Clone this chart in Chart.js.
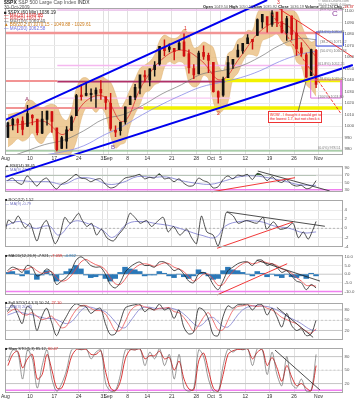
<!DOCTYPE html>
<html><head><meta charset="utf-8">
<script src="https://cdn.jsdelivr.net/npm/chart.js@4"></script>
<style>
body{margin:0;background:#fff;}
#wrap{position:relative;width:356px;height:400px;background:#fff;overflow:hidden;font-family:"Liberation Sans",Arial,sans-serif;}
canvas{position:absolute;left:0;}
.t{position:absolute;white-space:nowrap;font-size:4.6px;line-height:5px;color:#222;z-index:5;}
</style></head><body>
<div id="wrap">
<canvas id="p2" style="top:162px"></canvas>
<canvas id="p3" style="top:196px"></canvas>
<canvas id="p4" style="top:251px"></canvas>
<canvas id="p5" style="top:299px"></canvas>
<canvas id="p6" style="top:344px"></canvas>
<canvas id="p1" style="top:0px;z-index:2"></canvas>

<div class="t" style="left:4px;top:0px;font-size:5px"><b>$SPX</b> <span style="color:#555">S&amp;P 500 Large Cap Index</span> INDX</div>
<div class="t" style="left:4px;top:5px;color:#555">30-Oct-2009</div>
<div class="t" style="left:4px;top:9.5px">■ $SPX (60 Min) 1036.19</div>
<div class="t" style="left:4px;top:12.7px;color:#d22">— MA(20) 1049.88</div>
<div class="t" style="left:4px;top:15.8px;color:#e05050">— MA(50) 1063.37</div>
<div class="t" style="left:4px;top:18.9px;color:#666">— MA(100) 1069.49</div>
<div class="t" style="left:4px;top:22.2px;color:#d08020">▲ BB(20,2.0) 1070.15 - 1049.88 - 1029.61</div>
<div class="t" style="left:4px;top:25.5px;color:#7070e0">— MA(200) 1062.58</div>
<div class="t" style="left:203px;top:3.8px;font-size:3.9px"><b>Open</b> <span style="color:#666">1049.50</span> <b>High</b> <span style="color:#666">1050.52</span> <b>Low</b> <span style="color:#666">1035.92</span> <b>Close</b> <span style="color:#666">1036.19</span> <b>Volume</b> <span style="color:#666">169.1M</span> <b>Chg</b> <span style="color:#c00">-13.37</span></div>
<div class="t" style="left:318px;top:0px;font-size:3.6px;line-height:3.8px;color:#888">© StockCharts.com<br>30-Oct-2009 4:00pm</div>

<div class="t" style="left:25px;top:97px;font-size:6px;color:#993366">A</div>
<div class="t" style="left:111px;top:145px;font-size:6px;color:#6a3d9a">B</div>
<div class="t" style="left:332px;top:11px;font-size:8px;color:#8a3d9a">C</div>
<div class="t" style="left:184px;top:26px;font-size:5px;color:#d22">1</div>
<div class="t" style="left:217px;top:111px;font-size:5px;color:#d22">2</div>
<div class="t" style="left:277px;top:0px;font-size:5px;color:#d22">3</div>

<div class="t" style="left:320px;top:6.5px;font-size:3.6px;color:#777">(0.0%) 1101.40</div>
<div class="t" style="left:318px;top:30px;font-size:3.6px;color:#777">(23.6%) 1080.84</div>
<div class="t" style="left:320px;top:40px;font-size:3.6px;color:#777">(38.2%) 1071.12</div>
<div class="t" style="left:320px;top:48.5px;font-size:3.6px;color:#777">(50.0%) 1060.68</div>
<div class="t" style="left:318px;top:62px;font-size:3.6px;color:#777">(61.8%) 1052.25</div>
<div class="t" style="left:318px;top:77px;font-size:3.6px;color:#777">(78.6%) 1039.60</div>
<div class="t" style="left:318px;top:95px;font-size:3.6px;color:#777">(100%) 1024.80</div>
<div class="t" style="left:318px;top:146px;font-size:3.6px;color:#777">(0.0%) 978.51</div>

<div class="t" style="left:268px;top:111px;width:50px;padding:0.5px 1px;border:0.6px solid #e33;background:#fff;color:#e00;font-size:3.7px;line-height:4.3px;z-index:6">WOW - I thought it would get to<br>the lowest 1.7, but not check it.</div>

<div class="t" style="left:5px;top:163px;font-size:4px">▲ RSI(14) 38.45</div>
<div class="t" style="left:5px;top:166.5px;font-size:4px;color:#7070c0">— MA(9) 42.11</div>
<div class="t" style="left:5px;top:197px;font-size:4px">■ ROC(12) 1.52</div>
<div class="t" style="left:5px;top:200.5px;font-size:4px;color:#7070c0">— MA(9) -0.79</div>
<div class="t" style="left:5px;top:252.5px;font-size:4px">■ MACD(12,26,9) -7.921, <span style="color:#d22">-7.059</span>, <span style="color:#2a7ab8">-0.862</span></div>
<div class="t" style="left:5px;top:300px;font-size:4px">■ Full STO(14,3,3) 50.24, <span style="color:#d22">27.10</span></div>
<div class="t" style="left:5px;top:303.5px;font-size:4px;color:#7070c0">— MA(3) 20.35</div>
<div class="t" style="left:5px;top:345.5px;font-size:4px">■ Slow STO(5,3) 85.12, <span style="color:#d22">60.47</span></div>
</div>
<script>
// ---------- DATA ----------
const tickDays   = [0,5,10,15,20,21,25,29,34,39,42,44,49,54,59,64];
const tickLabels = ['Aug','10','17','24','31','Sep','8','14','21','28','Oct','5','12','19','26','Nov'];

const open  = [990.2,1001.4,1005.4,1004.1,999.8,1008.9,1005.8,994.0,1005.9,1012.2,998.2,980.6,986.9,996.4,1009.1,1026.6,1026.6,1027.4,1027.8,1031.6,1025.2,1019.5,996.1,996.1,1003.8,1018.7,1025.1,1033.0,1043.9,1040.2,1049.0,1054.0,1067.9,1066.6,1067.1,1066.4,1072.7,1062.6,1049.5,1045.4,1063.7,1061.0,1054.9,1029.7,1026.9,1042.0,1053.7,1060.0,1065.3,1071.6,1075.0,1078.7,1090.4,1094.7,1088.2,1098.6,1090.4,1081.0,1095.2,1080.4,1067.5,1061.5,1043.7,1065.4];
const high  = [1003.6,1007.1,1006.6,1008.0,1018.0,1010.1,1005.8,1012.8,1013.1,1012.6,998.2,991.2,999.6,1008.9,1027.6,1035.8,1037.8,1032.5,1033.3,1039.5,1025.2,1028.5,1000.3,1003.4,1016.5,1026.1,1036.3,1044.1,1048.2,1049.7,1056.0,1068.8,1074.8,1071.5,1067.3,1073.8,1080.2,1066.3,1053.5,1065.1,1069.6,1063.4,1054.9,1030.6,1042.6,1060.6,1058.0,1070.7,1071.5,1079.5,1075.3,1093.2,1096.6,1094.7,1100.2,1098.6,1101.4,1095.2,1095.8,1091.8,1072.5,1063.3,1066.8,1066.6];
const low   = [990.2,996.7,994.3,992.5,999.8,1001.0,992.4,993.4,1000.8,994.6,978.5,980.6,980.6,996.4,1009.1,1022.5,1026.2,1021.6,1016.2,1023.1,1014.6,996.3,991.0,992.3,1001.7,1018.7,1023.0,1028.0,1038.4,1035.0,1043.4,1052.9,1061.2,1064.3,1057.5,1066.4,1060.4,1045.9,1041.2,1045.4,1057.8,1046.5,1029.5,1020.0,1025.9,1042.0,1050.0,1060.0,1063.0,1071.6,1066.7,1078.7,1085.0,1081.5,1086.5,1086.2,1080.8,1074.3,1075.0,1061.3,1060.6,1042.2,1043.7,1033.4];
const close = [1002.6,1005.6,1002.7,997.1,1010.5,1007.1,994.4,1005.8,1012.7,1004.1,979.7,989.7,996.5,1007.4,1026.1,1025.6,1028.0,1028.1,1031.0,1028.9,1020.6,998.0,994.8,1003.2,1016.4,1025.4,1033.4,1044.1,1042.7,1049.3,1052.6,1068.8,1065.5,1068.3,1064.7,1071.7,1060.9,1050.8,1044.4,1063.0,1060.6,1057.1,1029.9,1025.2,1040.5,1054.7,1057.6,1065.5,1071.5,1076.2,1073.2,1092.0,1096.6,1087.7,1097.9,1091.1,1081.4,1092.9,1079.6,1067.0,1063.4,1042.6,1066.1,1036.2];

const bbUpper = [1010,1011,1012,1012,1022,1022,1018,1016,1018,1019,1017,1008,1005,1014,1033,1041,1042,1039,1040,1043,1041,1038,1028,1016,1022,1032,1041,1050,1053,1056,1062,1074,1079,1077,1076,1078,1084,1079,1068,1069,1073,1071,1068,1053,1048,1063,1066,1075,1077,1083,1083,1098,1103,1102,1105,1104,1106,1101,1101,1098,1088,1078,1073,1075];
const bbLower = [982,985,989,987,989,994,987,985,992,995,972,969,972,977,987,1006,1016,1016,1012,1016,1010,991,981,984,986,1001,1011,1019,1029,1031,1036,1038,1051,1056,1054,1056,1054,1038,1034,1036,1044,1041,1021,1011,1014,1021,1041,1046,1056,1062,1062,1061,1074,1076,1078,1080,1074,1070,1069,1056,1052,1036,1032,1026];

const maDays   = [0,4,8,12,16,20,24,28,32,36,40,44,48,52,56,60,63.5];
const maRed    = [1000,1002,1004,993,1020,1026,1004,1036,1058,1066,1057,1040,1060,1082,1090,1078,1060];
const maGray   = [972,978,984,988,996,1006,1010,1018,1028,1036,1045,1048,1052,1060,1070,1076,1075];
const maPurple = [968,971,975,978,983,992,1000,1010,1019,1027,1034,1038,1042,1048,1056,1062,1065];

const rsi      = [55,62,50,45,68,55,40,55,62,45,32,45,52,62,72,62,60,52,58,60,45,35,38,50,62,65,68,72,60,64,62,74,60,62,52,60,48,40,42,62,55,50,35,38,58,68,60,70,68,72,58,75,70,55,66,55,50,58,45,40,42,33,36,55];
const rsiSigDays = [0,3,6,9,12,15,18,21,24,27,30,33,36,39,42,45,48,51,54,57,60,63.5];
const rsiSig   = [55,55,52,52,45,62,60,45,50,66,64,65,55,48,45,55,66,68,62,54,44,42];

const rocDays  = [0,0.7,1.7,2.7,4.1,5.1,6.5,7.5,8.5,10.2,11.2,12.2,13.3,15,15.6,16.7,17.7,18.7,19.7,20.8,22.1,23.1,24.5,25.5,26.5,27.6,28.9,29.9,31,32.3,33.3,34.4,35.7,37.1,38.1,39.1,40.1,41.2,42.5,43.5,44.6,45.2,46.6,47.6,49.3,51.4,52.7,53.4,54.8,56.1,57.5,58.8,59.9,60.9,61.9,62.9,63.5];
const roc      = [-0.8,1.8,1.1,2.7,0.1,1.1,-2.8,0.4,1.7,-3.4,-1.5,2.4,1.1,3.3,2.1,0.4,1.1,-1.5,-0.2,-2.1,-2.8,-1.5,0.4,3.3,2.4,1.1,1.7,0.4,1.4,2.4,-0.8,0.4,-1.5,-0.2,-2.1,-3.4,2.7,-0.8,-1.5,-3.9,0.4,3.5,2.7,1.1,1.7,1.1,2.4,-0.2,1.4,-0.2,0.1,1.1,-2.1,-0.8,-2.4,-0.2,1.5];
const rocSigDays = [0,3,6,9,11,14,17,20,22,25,28,31,34,37,40,43,45,48,52,55,58,61,63.5];
const rocSig   = [0.5,1.5,0,0.5,-1.5,1.5,1,-0.5,-2,1,1.5,1,0.5,-0.5,-1.5,-2,0.5,1.5,1.5,0.5,0,-1,-0.8];

const macd     = [2,4,3,1,5,4,-1,0,3,1,-6,-4,-2,2,8,10,8,5,4,4,0,-6,-8,-5,1,4,6,7,5,5,4,7,7,5,2,3,0,-4,-5,0,1,-1,-6,-9,-4,2,4,6,7,7,5,8,8,5,6,4,1,2,-1,-4,-5,-9,-6,-8];
const macdSig  = [1,2.5,3,2.5,3,4,2,0.5,1,1.5,-2,-4,-3.5,-1,3,7,8.5,7,5.5,4.5,2.5,-2,-5.5,-6,-3,1,3.5,5.5,6,5.5,4.5,5.5,6.5,6,4,3,1.5,-1.5,-4,-2.5,0,0,-3,-6.5,-6,-2,1.5,4,6,7,6,6.5,7.5,6.5,6,5,3,2,0.5,-2,-4,-6.5,-6.5,-7];
const macdHist = [1,1.5,0,-1,2,0,-3,-0.5,2,-0.5,-4,0,1.5,3,5,3,-0.5,-2,-1.5,-0.5,-2.5,-4,-2.5,1,4,3,2.5,1.5,-1,-0.5,-0.5,1.5,0.5,-1,-2,0,-1.5,-2.5,-1,2.5,1,-1,-3,-2.5,2,4,2.5,2,1,0,-1,1.5,0.5,-1.5,0,-1,-2,0,-1.5,-2,-1,-2.5,0.5,-1];

const stoK     = [75,95,70,40,90,80,20,60,85,45,5,35,60,85,98,92,90,70,80,85,40,8,10,45,85,92,95,97,75,85,80,97,80,85,55,80,30,10,15,85,80,55,8,5,60,92,85,95,95,97,80,95,95,65,85,60,30,70,35,20,25,5,10,50];
const stoD     = [70,80,82,68,65,72,62,52,55,62,45,28,32,58,80,92,93,85,78,78,68,45,20,20,45,75,90,94,89,85,80,85,85,87,75,72,58,38,18,35,58,72,48,22,22,50,78,90,92,95,92,90,92,85,80,70,58,52,45,40,27,18,12,25];
const stoMA    = [65,70,75,72,68,66,62,58,55,55,52,45,40,45,60,78,88,88,84,80,75,62,45,30,28,45,65,82,88,88,85,84,85,86,83,78,68,55,40,32,40,55,58,45,32,30,45,65,80,88,92,92,91,90,86,80,72,62,55,48,40,30,22,20];

const fastK    = [70,95,90,30,95,75,10,60,95,30,3,20,50,95,98,95,98,75,90,95,20,3,5,40,95,96,95,98,60,90,75,98,60,85,30,85,10,3,10,95,80,30,3,2,60,97,90,98,95,98,60,98,95,40,90,40,15,80,20,10,30,3,5,85];
const fastD    = [60,85,92,55,75,85,30,40,85,50,10,10,40,80,96,96,96,85,85,93,45,10,4,25,75,95,95,97,75,82,82,92,75,78,50,70,30,8,6,70,88,50,10,3,40,85,93,96,96,97,75,90,96,60,78,55,25,60,35,15,20,10,4,60];

const priceTicks = [980,990,1000,1010,1020,1030,1040,1050,1060,1070,1080,1090,1100];

// ---------- HELPERS ----------
const X_MAX = 69;
const dayPos = close.map((_, i) => i + 0.5);
const pts = (xs, ys) => ys.map((v, i) => ({x: xs[i], y: v}));
function line(data, color, w, extra) {
  return Object.assign({type:'line', data, borderColor:color, borderWidth:w, pointRadius:0, fill:false, tension:0}, extra || {});
}
function hline(v, x0, x1, color, w, extra) {
  return line([{x:x0,y:v},{x:x1,y:v}], color, w, Object.assign({order:8}, extra || {}));
}
const framePlugin = {
  id: 'frame',
  afterDraw(chart) {
    const {ctx, chartArea: a} = chart;
    ctx.save(); ctx.strokeStyle = '#a8a8a8'; ctx.lineWidth = 1;
    ctx.strokeRect(Math.round(a.left)+0.5, Math.round(a.top)+0.5, Math.round(a.right-a.left)-1, Math.round(a.bottom-a.top)-1);
    ctx.restore();
  }
};

function makePanel(id, top, h, aTop, aBot, showX, yMin, yMax, yTicks, fmt, datasets) {
  const hx = showX ? 7 : 0;
  const cv = document.getElementById(id);
  cv.width = 356; cv.height = h;
  return new Chart(cv, {
    type: 'line',
    data: {datasets},
    options: {
      responsive:false, animation:false, devicePixelRatio:1,
      layout:{autoPadding:false, padding:{left:5, right:1, top:aTop-top, bottom:(top+h)-aBot-hx}},
      plugins:{legend:{display:false}, tooltip:{enabled:false}},
      scales:{
        x:{type:'linear', min:0, max:X_MAX, offset:false,
           afterBuildTicks: s => { s.ticks = tickDays.map(v => ({value:v})); },
           afterFit: s => { s.height = hx; },
           ticks:{display:showX, autoSkip:false, maxRotation:0, padding:1, color:'#333', font:{size:5, family:'Liberation Sans'},
                  callback:(v, i) => tickLabels[i]},
           grid:{color:'#e0e0e0', drawTicks:false, offset:false},
           border:{display:false}},
        y:{type:'linear', position:'right', min:yMin, max:yMax,
           afterBuildTicks: s => { s.ticks = yTicks.map(v => ({value:v})); },
           afterFit: s => { s.width = 12; },
           ticks:{autoSkip:false, padding:1.5, color:'#555', font:{size:4.3, family:'Liberation Sans'}, callback: fmt},
           grid:{color:'#ebebeb', drawTicks:false},
           border:{display:false}}
      }
    },
    plugins:[framePlugin]
  });
}

// ---------- MAIN PRICE PANEL ----------
const upCol = '#111', dnCol = '#d01010';
const candleCols = close.map((c, i) => c >= open[i] ? upCol : dnCol);
const mainSets = [
  line([{x:59.8,y:1012.3},{x:61.4,y:1038.3}], '#555', 0.8, {order:0, clip:false}),
  line([{x:0,y:1005.4},{x:53.5,y:1109.4}], '#0000ee', 2, {order:1, clip:false}),
  line([{x:0,y:956},{x:71,y:1053}], '#0000ee', 2, {order:1, clip:false}),
  line([{x:55.7,y:1102.5},{x:71,y:1060}], '#ee2222', 0.9, {order:1, clip:false}),
  line([{x:54.5,y:1097},{x:68.5,y:1011.4}], '#ee2222', 0.9, {order:1, borderDash:[3,1.5], clip:false}),
  {type:'bar', data: dayPos.map((x,i)=>({x, y:[low[i], high[i]]})), backgroundColor:candleCols, barThickness:0.8, grouped:false, order:2},
  {type:'bar', data: dayPos.map((x,i)=>({x, y:[Math.min(open[i],close[i]), Math.max(open[i],close[i])+0.4]})), backgroundColor:candleCols, barThickness:2, grouped:false, order:2},
  line(pts(maDays, maRed), '#e03030', 0.8, {order:5, tension:0.4}),
  line(pts(maDays, maGray), '#777', 0.7, {order:5, tension:0.4}),
  line(pts(maDays, maPurple), '#8a8ae8', 0.8, {order:5, tension:0.4}),
  hline(1100.8, 10.6, 69, '#f0a8ef', 1),
  hline(1080.8, 0, 64.3, '#f29494', 2.4),
  hline(1052.6, 10.6, 69, '#f5b8f0', 1.4),
  hline(1024.4, 10.6, 46, '#f8c8f2', 1.2),
  hline(1039.2, 0, 10.6, '#f29494', 2.2),
  hline(1038.6, 10.6, 44.9, '#b03068', 1.6),
  hline(1039.6, 44.9, 69, '#f2f200', 3.6),
  hline(1015.8, 0, 28.2, '#f29494', 2),
  hline(1015.8, 28.2, 69, '#f2f200', 3.6),
  hline(978.5, 0, 69, '#8cbc8c', 1.2),
  line([{x:63.5,y:1081.7},{x:69,y:1081.7},{x:69,y:1069.5},{x:63.5,y:1069.5},{x:63.5,y:1081.7}], '#3344dd', 1, {order:1, clip:false}),
  line([{x:62.4,y:1040.1},{x:68.6,y:1040.1},{x:68.6,y:1024.4},{x:62.4,y:1024.4},{x:62.4,y:1040.1}], '#e070e0', 1, {order:1}),
  line(pts(dayPos, bbUpper), 'rgba(210,160,90,0.8)', 0.5, {order:10, tension:0.35, fill:'+1', backgroundColor:'rgba(230,178,105,0.68)'}),
  line(pts(dayPos, bbLower), 'rgba(210,160,90,0.8)', 0.5, {order:10, tension:0.35})
];
makePanel('p1', 0, 200, 8, 155, true, 975, 1102.5, priceTicks, v => String(v), mainSets);

// ---------- RSI PANEL ----------
makePanel('p2', 162, 34, 164, 195, false, 24, 95, [30,50,70,90], v => String(v), [
  line(pts(dayPos, rsi), '#222', 0.8, {order:2, tension:0.25, fill:{target:{value:70}, above:'#2f6f30', below:'rgba(0,0,0,0)'}}),
  line(pts(rsiSigDays, rsiSig), '#7a7ad0', 0.8, {order:3, tension:0.4}),
  line([{x:42.2,y:24.3},{x:59.2,y:63.1}], '#ee2222', 0.9, {order:1, clip:false}),
  line([{x:51.6,y:81.4},{x:66.3,y:26.6}], '#222', 0.8, {order:1, clip:false}),
  hline(30, 0, X_MAX, '#f080f0', 1.5),
  hline(70, 0, X_MAX, '#c8c8c8', 0.8)
]);

// ---------- ROC PANEL ----------
makePanel('p3', 196, 55, 197, 250, false, -4.1, 6.2, [-4,-2,0,2,4], v => String(v), [
  line(pts(rocDays, roc), '#222', 0.8, {order:2, tension:0.25}),
  line(pts(rocSigDays, rocSig), '#7a7ad0', 0.8, {order:3, tension:0.4}),
  line([{x:45.3,y:3.6},{x:65.3,y:0.44}], '#222', 0.8, {order:1, clip:false}),
  line([{x:43.3,y:-4.4},{x:58.8,y:1.4}], '#ee2222', 0.9, {order:1, clip:false}),
  hline(0, 0, X_MAX, '#aaa', 0.8, {borderDash:[2,2]})
]);

// ---------- MACD PANEL ----------
makePanel('p4', 251, 48, 252, 298, false, -12, 11, [-10,-5,0,5,10], v => v.toFixed(1), [
  line(pts(dayPos, macd), '#222', 0.8, {order:2, tension:0.3}),
  line(pts(dayPos, macdSig), '#ee4444', 0.8, {order:3, tension:0.3}),
  {type:'bar', data: pts(dayPos, macdHist), backgroundColor:'#2a78b8', barPercentage:1, categoryPercentage:1, grouped:false, order:4},
  line([{x:51.4,y:8},{x:64.3,y:-4}], '#222', 0.8, {order:1, clip:false}),
  line([{x:43.3,y:-12},{x:57.6,y:6}], '#ee2222', 0.9, {order:1, clip:false}),
  hline(-10, 0, X_MAX, '#f080f0', 1.5),
  hline(0, 0, X_MAX, '#bbb', 0.6)
]);

// ---------- FULL STOCHASTIC PANEL ----------
makePanel('p5', 299, 45, 300, 343, false, -7.5, 100, [20,50,80], v => String(v), [
  line(pts(dayPos, stoK), '#222', 0.8, {order:2, tension:0.3}),
  line(pts(dayPos, stoD), '#ee5555', 0.8, {order:3, tension:0.3}),
  line(pts(dayPos, stoMA), '#8080d0', 0.8, {order:4, tension:0.3}),
  line([{x:55.5,y:87.5},{x:62.9,y:0}], '#222', 0.8, {order:1, clip:false}),
  hline(80, 0, X_MAX, '#bdbdbd', 0.8),
  hline(20, 0, X_MAX, '#bdbdbd', 0.8),
  hline(50, 0, X_MAX, '#bbb', 0.7, {borderDash:[2,2]})
]);

// ---------- SLOW STOCHASTIC PANEL ----------
makePanel('p6', 344, 56, 345, 393, true, -1, 99, [20,50,80], v => String(v), [
  line(pts(dayPos, fastD), '#d42020', 0.9, {order:3, tension:0.3}),
  line(pts(dayPos, fastK), '#555', 0.6, {order:2, tension:0.3}),
  line([{x:55.1,y:94.6},{x:64.3,y:5.6}], '#222', 0.8, {order:1, clip:false}),
  hline(80, 0, X_MAX, '#bdbdbd', 0.8),
  hline(20, 0, X_MAX, '#bdbdbd', 0.8),
  hline(50, 0, X_MAX, '#bbb', 0.7, {borderDash:[2,2]}),
  hline(5, 0, X_MAX, '#f080f0', 1.5)
]);
</script>
</body></html>
